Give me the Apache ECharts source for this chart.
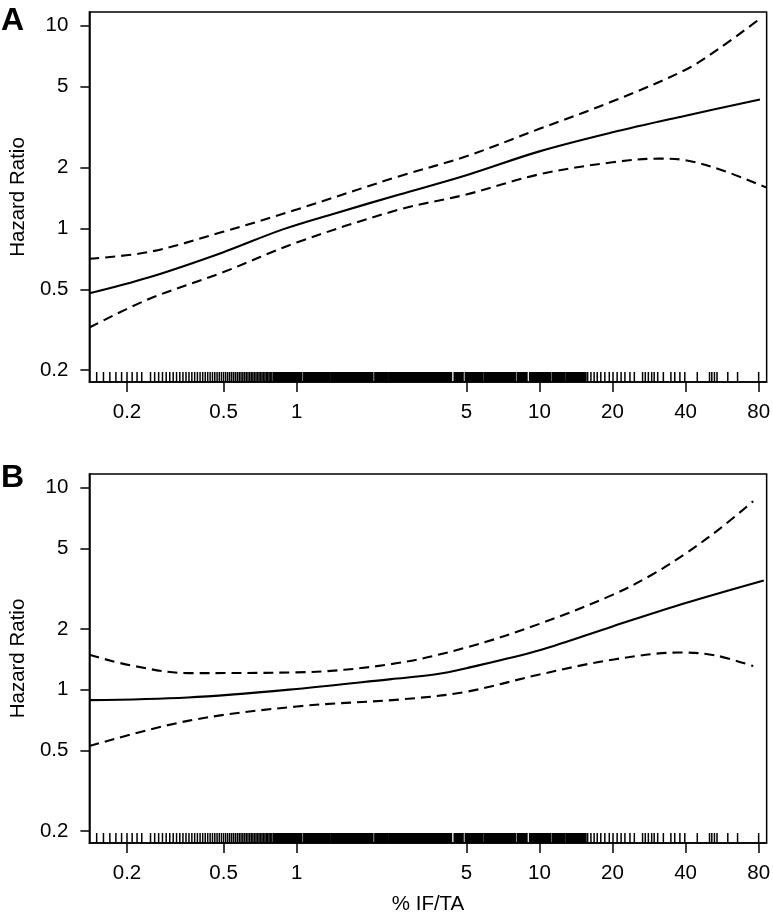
<!DOCTYPE html>
<html>
<head>
<meta charset="utf-8">
<script src="https://cdn.jsdelivr.net/npm/echarts@6/dist/echarts.min.js"></script>
<style>
html,body{margin:0;padding:0;background:#fff;}
#chart{width:773px;height:921px;}
</style>
</head>
<body>
<div id="chart"></div>
<script>
// ---- tick values ----
const xTicks = [0.2, 0.5, 1, 5, 10, 20, 40, 80];
const yTicks = [0.2, 0.5, 1, 2, 5, 10];

// ---- Panel A: hazard ratio estimate and 95% CI ([% IF/TA, HR]) ----
const aEst = [[0.14,0.478],[0.245,0.572],[0.493,0.759],[0.877,0.989],[1.436,1.186],[2.65,1.47],[5,1.83],[10,2.40],[20,2.98],[40,3.60],[81,4.33]];
const aUpper = [[0.14,0.709],[0.245,0.764],[0.493,0.959],[1,1.24],[2.65,1.81],[5,2.27],[10,3.10],[20,4.24],[40,6.07],[55.4,7.77],[79,10.6]];
const aLower = [[0.14,0.324],[0.245,0.447],[0.493,0.605],[1,0.851],[2.65,1.24],[5,1.47],[10,1.85],[20,2.12],[31.2,2.21],[40,2.17],[57.7,1.92],[86.3,1.59]];

// ---- Panel B ----
const bEst = [[0.14,0.889],[0.356,0.916],[1,1.01],[2.45,1.13],[3.69,1.19],[5,1.28],[10,1.57],[20,2.06],[40,2.69],[84,3.48]];
const bUpper = [[0.14,1.49],[0.208,1.32],[0.356,1.21],[1,1.22],[2.45,1.34],[5,1.62],[10,2.12],[20,2.95],[28.7,3.68],[40,4.72],[55.4,6.28],[76,8.58]];
const bLower = [[0.14,0.527],[0.356,0.702],[1,0.827],[2.77,0.899],[5,0.978],[10,1.19],[20,1.41],[38.3,1.53],[53.1,1.48],[76,1.31]];

// ---- rug (observed % IF/TA values) ----
const rugSparse = [0.15,0.16,0.17,0.18,0.19,0.20,0.21,0.22,0.23,
0.25,0.26,0.27,0.28,0.29,0.30,0.31,0.32,0.33,0.34,0.35,0.36,0.37,0.38,0.39,0.40,0.41,0.42,0.43,0.44,0.45,0.46,0.47,0.48,0.49,
0.50,0.51,0.52,0.53,0.54,0.55,0.56,0.57,0.58,0.59,0.60,0.61,0.62,0.63,0.64,0.65,0.66,0.67,0.68,0.69,0.70,0.71,0.72,0.73,0.74,
0.75,0.76,0.77,0.78,0.79,
15.8,16.3,16.8,17.3,17.9,18.6,19.4,20.1,20.9,21.7,22.5,23.6,24.6,26.6,27.3,28.1,29.0,29.7,30.7,32.4,34.8,36.1,37.9,39.7,
44.7,50.2,51.3,52.6,53.9,59.7,65.5,80.0];
const rugDense = [0.81,0.82,0.83,0.84,0.85,0.86,0.87,0.88,0.89,0.90,0.91,0.92,0.93,0.94,0.95,0.96,0.97,0.98,0.99,
1.00,1.02,1.04,1.08,1.10,1.12,1.14,1.16,1.18,1.20,1.22,1.24,1.26,1.28,1.30,1.32,1.34,1.36,1.40,1.42,1.44,1.46,1.48,
1.50,1.52,1.54,1.56,1.58,1.60,1.62,1.64,1.66,1.68,1.70,1.72,1.74,1.76,1.78,1.80,1.82,1.84,1.86,1.88,1.90,1.92,1.94,1.96,1.98,
2.00,2.04,2.12,2.16,2.20,2.24,2.28,2.32,2.36,2.44,2.48,2.52,2.56,2.60,2.68,2.72,2.76,2.80,2.84,2.92,2.96,
3.00,3.04,3.08,3.12,3.16,3.20,3.24,3.28,3.32,3.36,3.40,3.44,3.48,3.52,3.56,3.60,3.64,3.72,3.76,3.80,3.84,3.88,3.92,3.96,
4.0,4.1,4.2,4.3,4.5,4.6,4.7,4.8,5.0,5.1,5.2,5.3,5.4,5.5,5.6,5.7,5.8,6.0,6.1,6.2,6.3,6.4,6.5,6.6,6.8,6.9,7.0,7.1,7.2,7.3,
7.5,7.6,7.7,7.8,7.9,8.2,8.4,8.6,8.8,9.2,9.4,9.6,9.8,10.0,10.2,10.4,10.6,10.8,11.0,11.4,11.6,11.8,12.0,12.2,12.4,12.6,
13.0,13.2,13.4,13.6,13.8,14.0,14.2,14.4,14.8,15.0,15.2,15.4];

const X_MIN = 0.14, X_MAX = 86.3;
const Y_MIN = 0.1745, Y_MAX = 11.7;
const FONT = 'Liberation Sans, Arial, Helvetica, sans-serif';
const FS = 20.5;
const fmt = v => String(+(+v).toPrecision(6));

function xAxisFor(gi, name) {
  return {
    type: 'log', logBase: 10, gridIndex: gi, min: X_MIN, max: X_MAX,
    name: name, nameLocation: 'middle', nameGap: 51,
    nameTextStyle: {fontSize: FS, color: '#000', fontFamily: FONT},
    axisLine: {show: true, lineStyle: {color: '#000', width: 1.5}},
    axisTick: {show: true, customValues: xTicks, length: 10, lineStyle: {color: '#000', width: 1.5}},
    axisLabel: {customValues: xTicks, formatter: fmt, fontSize: FS, color: '#000', margin: 20, fontFamily: FONT},
    splitLine: {show: false}, minorTick: {show: false}
  };
}
function yAxisFor(gi) {
  return {
    type: 'log', logBase: 10, gridIndex: gi, min: Y_MIN, max: Y_MAX,
    name: 'Hazard Ratio', nameLocation: 'middle', nameGap: 59,
    nameTextStyle: {fontSize: FS, color: '#000', fontFamily: FONT},
    axisLine: {show: true, lineStyle: {color: '#000', width: 1.5}},
    axisTick: {show: true, customValues: yTicks, length: 9, lineStyle: {color: '#000', width: 1.5}},
    axisLabel: {customValues: yTicks, formatter: fmt, fontSize: FS, color: '#000', margin: 21, fontFamily: FONT},
    splitLine: {show: false}, minorTick: {show: false}
  };
}
function lineSeries(gi, data, dashed) {
  return {
    type: 'line', xAxisIndex: gi, yAxisIndex: gi, data: data, showSymbol: false, symbol: 'none',
    smooth: 0.35, clip: true, animation: false,
    lineStyle: {color: '#000', width: 2.1, type: dashed ? [10, 6] : 'solid'}
  };
}
function rugSeries(gi, values, w) {
  return {
    type: 'scatter', xAxisIndex: gi, yAxisIndex: gi, clip: false, animation: false, silent: true,
    large: false, progressive: 0,
    data: values.map(v => [v, Y_MIN]),
    symbol: 'rect', symbolSize: [w, 10], symbolOffset: [0, -5],
    itemStyle: {color: '#000', opacity: 1}
  };
}

const chart = echarts.init(document.getElementById('chart'), null, {renderer: 'canvas'});
chart.setOption({
  backgroundColor: '#fff',
  animation: false,
  title: [
    {text: 'A', left: 1, top: 5, padding: 0, textStyle: {fontSize: 32, fontWeight: 'bold', color: '#000', fontFamily: FONT}},
    {text: 'B', left: 1, top: 462, padding: 0, textStyle: {fontSize: 32, fontWeight: 'bold', color: '#000', fontFamily: FONT}}
  ],
  grid: [
    {left: 85, top: 12, width: 684, height: 370, show: true, borderColor: '#000', borderWidth: 1.5, containLabel: false},
    {left: 85, top: 474, width: 684, height: 369, show: true, borderColor: '#000', borderWidth: 1.5, containLabel: false}
  ],
  xAxis: [xAxisFor(0, ''), xAxisFor(1, '% IF/TA')],
  yAxis: [yAxisFor(0), yAxisFor(1)],
  series: [
    rugSeries(0, rugSparse, 1.5), rugSeries(0, rugDense, 3.5),
    lineSeries(0, aEst, false), lineSeries(0, aUpper, true), lineSeries(0, aLower, true),
    rugSeries(1, rugSparse, 1.5), rugSeries(1, rugDense, 3.5),
    lineSeries(1, bEst, false), lineSeries(1, bUpper, true), lineSeries(1, bLower, true)
  ]
});
</script>
</body>
</html>
